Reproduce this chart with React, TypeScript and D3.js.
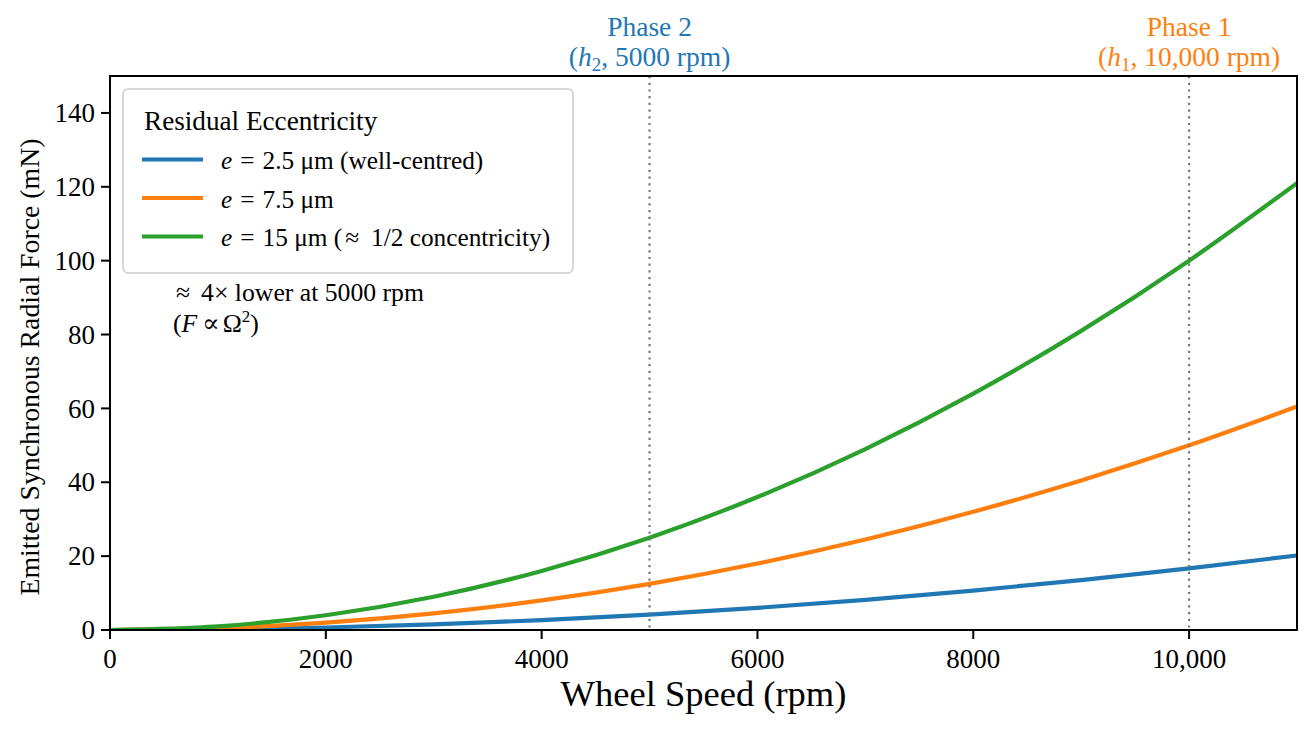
import React from "react";
import * as d3 from "d3";

const speeds = [0, 1000, 2000, 3000, 4000, 5000, 6000, 7000, 8000, 9000, 10000, 11000];
const forceWellCentred = [0, 0.17, 0.67, 1.5, 2.67, 4.17, 6.0, 8.17, 10.67, 13.5, 16.67, 20.17];
const forceMid = [0, 0.5, 2.0, 4.5, 8.0, 12.5, 18.0, 24.5, 32.0, 40.5, 50.0, 60.5];
const forceHalfConc = [0, 1.0, 4.0, 9.0, 16.0, 25.0, 36.0, 49.0, 64.0, 81.0, 100.0, 121.0];

const xTicks = [0, 2000, 4000, 6000, 8000, 10000];
const xTickLabels = ["0", "2000", "4000", "6000", "8000", "10,000"];
const yTicks = [0, 20, 40, 60, 80, 100, 120, 140];

const phaseSpeeds = [5000, 10000];

const W = 1314;
const H = 732;
const M = { left: 110, right: 1297, top: 76, bottom: 630 };
const FONT = "'Liberation Serif', 'DejaVu Serif', serif";

const BLUE = "#1f77b4";
const ORANGE = "#ff7f0e";
const GREEN = "#2ca02c";

export default function App() {
  const x = d3.scaleLinear().domain([0, 11000]).range([M.left, M.right]);
  const y = d3.scaleLinear().domain([0, 150]).range([M.bottom, M.top]);

  const series = [
    { values: forceWellCentred, color: BLUE },
    { values: forceMid, color: ORANGE },
    { values: forceHalfConc, color: GREEN },
  ];

  const line = (vals: number[]) =>
    d3
      .line<number>()
      .x((_, i) => x(speeds[i]))
      .y((v) => y(v))
      .curve(d3.curveMonotoneX)(vals) || "";

  const eq = (<><tspan fontStyle="italic">e</tspan><tspan dx={8}>=</tspan></>);
  const legendRows = [
    { color: BLUE, label: (<>{eq}<tspan dx={8}>2.5 μm (well-centred)</tspan></>) },
    { color: ORANGE, label: (<>{eq}<tspan dx={8}>7.5 μm</tspan></>) },
    {
      color: GREEN,
      label: (
        <>
          {eq}
          <tspan dx={8}>15 μm (</tspan>
          <tspan dx={3}>≈</tspan>
          <tspan dx={12}>1/2 concentricity)</tspan>
        </>
      ),
    },
  ];

  return (
    <svg
      width={W}
      height={H}
      style={{ position: "fixed", left: 0, top: 0, background: "#fff" }}
      fontFamily={FONT}
    >
      <defs>
        <clipPath id="plotclip">
          <rect x={M.left} y={M.top} width={M.right - M.left} height={M.bottom - M.top} />
        </clipPath>
      </defs>
      <rect x={0} y={0} width={W} height={H} fill="#fff" />

      {/* curves */}
      <g clipPath="url(#plotclip)">
        {series.map((s, i) => (
          <path key={i} d={line(s.values)} fill="none" stroke={s.color} strokeWidth={4.2} strokeLinecap="square" />
        ))}
      </g>

      {/* phase lines */}
      {phaseSpeeds.map((p) => (
        <line
          key={p}
          x1={x(p)}
          x2={x(p)}
          y1={M.top}
          y2={M.bottom}
          stroke="#777"
          strokeWidth={2.2}
          strokeDasharray="2.2,4.5"
        />
      ))}

      {/* axes frame */}
      <rect
        x={M.left}
        y={M.top}
        width={M.right - M.left}
        height={M.bottom - M.top}
        fill="none"
        stroke="#000"
        strokeWidth={2}
      />

      {/* x ticks */}
      {xTicks.map((t, i) => (
        <g key={t}>
          <line x1={x(t)} x2={x(t)} y1={M.bottom} y2={M.bottom + 9} stroke="#000" strokeWidth={2} />
          <text x={x(t)} y={668} fontSize={27} textAnchor="middle" fill="#000">
            {xTickLabels[i]}
          </text>
        </g>
      ))}

      {/* y ticks */}
      {yTicks.map((t) => (
        <g key={t}>
          <line x1={M.left - 9} x2={M.left} y1={y(t)} y2={y(t)} stroke="#000" strokeWidth={2} />
          <text x={95} y={y(t)} dy="0.34em" fontSize={27} textAnchor="end" fill="#000">
            {t}
          </text>
        </g>
      ))}

      {/* axis labels */}
      <text x={(M.left + M.right) / 2} y={706} fontSize={36.5} textAnchor="middle" fill="#000">
        Wheel Speed (rpm)
      </text>
      <text
        transform={`translate(39, ${(M.top + M.bottom) / 2 + 14}) rotate(-90)`}
        fontSize={27.8}
        textAnchor="middle"
        fill="#000"
      >
        Emitted Synchronous Radial Force (mN)
      </text>

      {/* phase labels */}
      <text x={x(5000)} y={36} fontSize={27.5} textAnchor="middle" fill={BLUE}>
        Phase 2
      </text>
      <text x={x(5000)} y={66} fontSize={27.5} textAnchor="middle" fill={BLUE}>
        (<tspan fontStyle="italic">h</tspan>
        <tspan fontSize={19} dy={5}>2</tspan>
        <tspan dy={-5}>, 5000 rpm)</tspan>
      </text>
      <text x={x(10000)} y={36} fontSize={27.5} textAnchor="middle" fill={ORANGE}>
        Phase 1
      </text>
      <text x={x(10000)} y={66} fontSize={27.5} textAnchor="middle" fill={ORANGE}>
        (<tspan fontStyle="italic">h</tspan>
        <tspan fontSize={19} dy={5}>1</tspan>
        <tspan dy={-5}>, 10,000 rpm)</tspan>
      </text>

      {/* annotation */}
      <text x={176} y={301} fontSize={25.7} fill="#000">
        ≈<tspan dx={11}>4× lower at 5000 rpm</tspan>
      </text>
      <text x={173} y={332} fontSize={25.7} fill="#000">
        (<tspan fontStyle="italic">F</tspan>
        <tspan dx={5}>∝</tspan>
        <tspan dx={3}>Ω</tspan>
        <tspan fontSize={17} dy={-10}>2</tspan>
        <tspan dy={10}>)</tspan>
      </text>

      {/* legend */}
      <rect
        x={123}
        y={89}
        width={450}
        height={184}
        rx={5}
        fill="#fff"
        fillOpacity={0.8}
        stroke="#cccccc"
        strokeWidth={1.5}
      />
      <text x={144} y={130} fontSize={27.2} fill="#000">
        Residual Eccentricity
      </text>
      {legendRows.map((r, i) => {
        const ly = 159.5 + i * 38.5;
        return (
          <g key={i}>
            <line x1={142} x2={203} y1={ly} y2={ly} stroke={r.color} strokeWidth={4.2} />
            <text x={221} y={ly + 9.5} fontSize={25.3} fill="#000">
              {r.label}
            </text>
          </g>
        );
      })}
    </svg>
  );
}
